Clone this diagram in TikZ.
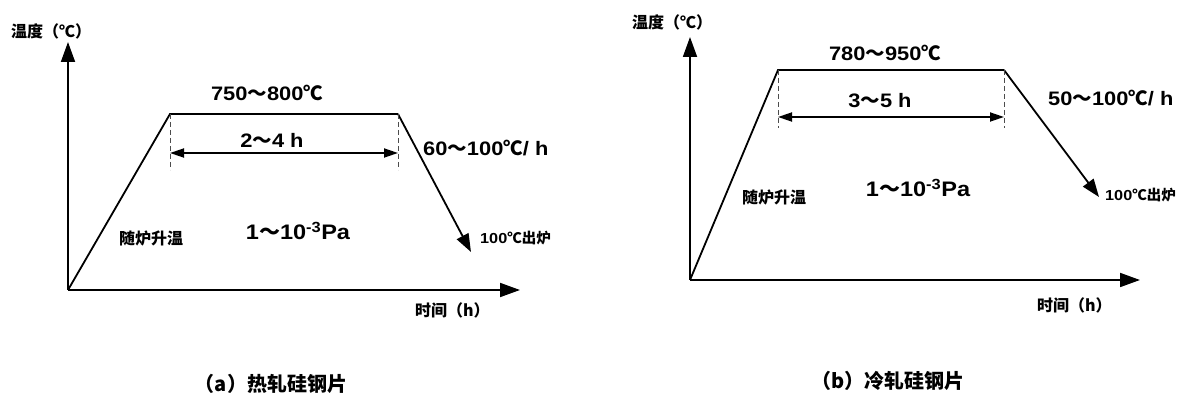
\documentclass[tikz,border=0pt]{standalone}
\usepackage{fontspec}
\setmainfont[FakeStretch=1.12]{Liberation Sans}
\newfontfamily\cjk{Noto Sans CJK SC}
\usetikzlibrary{arrows.meta}
\newcommand{\tld}{{\cjk\char"FF5E}}
\newcommand{\dgc}{{\cjk ℃}}
\begin{document}
\begin{tikzpicture}[x=1pt,y=-1pt,
  axisline/.style={line width=1.8pt,-{Triangle[length=20pt,width=14pt]}},
  curve/.style={line width=1.8pt,line join=miter},
  slopearrow/.style={line width=1.8pt,-{Triangle[length=18pt,width=13pt]}},
  spanarrow/.style={line width=1.8pt,{Triangle[length=14pt,width=9pt]}-{Triangle[length=14pt,width=9pt]}},
  guide/.style={dashed,gray!60!black,line width=0.8pt,dash pattern=on 5pt off 3pt},
  numlbl/.style={font=\bfseries\fontsize{19.5}{21}\selectfont,inner sep=0},
  biglbl/.style={font=\bfseries\fontsize{21}{23}\selectfont,inner sep=0},
  smalllbl/.style={font=\bfseries\fontsize{14.5}{16}\selectfont,inner sep=0},
  cjklbl/.style={font=\cjk\bfseries\fontsize{16}{18}\selectfont,inner sep=0},
  caplbl/.style={font=\cjk\bfseries\fontsize{20}{22}\selectfont,inner sep=0}]
\useasboundingbox (0,0) rectangle (1184,395);
% ---------- left (a) ----------
\coordinate (O1) at (68,290);
\coordinate (Y1) at (68,42);
\coordinate (X1) at (520,290);
\coordinate (A1) at (170,114);
\coordinate (B1) at (398,114);
\coordinate (E1) at (471,252);
\coordinate (A1d) at (170,170);
\coordinate (B1d) at (398,170);
\coordinate (A1s) at (170,153);
\coordinate (B1s) at (398,153);
\draw[axisline] (O1) -- (Y1);
\draw[axisline] (O1) -- (X1);
\draw[curve] (O1) -- (A1) -- (B1);
\draw[slopearrow] (B1) -- (E1);
\draw[guide] (A1) -- (A1d);
\draw[guide] (B1) -- (B1d);
\draw[spanarrow] (A1s) -- (B1s);
\node[cjklbl,anchor=west] (ylab1) at (11,31) {温度（\dgc）};
\node[cjklbl,anchor=west] (xlab1) at (415,310) {时间（h）};
\node[numlbl] (t1) at (267,93) {750\tld800\dgc};
\node[numlbl] (d1) at (272,140) {2\tld4 h};
\node[numlbl,anchor=west] (r1) at (423,148) {60\tld100\dgc/ h};
\node[smalllbl,anchor=west] (o1) at (480,238) {100\dgc{\cjk 出炉}};
\node[cjklbl] (h1) at (151,238) {随炉升温};
\node[biglbl] (p1) at (298,231) {1\tld10\textsuperscript{-3}Pa};
\node[caplbl] (c1) at (271,384) {（a）热轧硅钢片};
% ---------- right (b) ----------
\coordinate (O2) at (690,280);
\coordinate (Y2) at (690,37);
\coordinate (X2) at (1140,280);
\coordinate (A2) at (778,70);
\coordinate (B2) at (1004,70);
\coordinate (E2) at (1099,197);
\coordinate (A2d) at (778,128);
\coordinate (B2d) at (1004,128);
\coordinate (A2s) at (778,117);
\coordinate (B2s) at (1004,117);
\draw[axisline] (O2) -- (Y2);
\draw[axisline] (O2) -- (X2);
\draw[curve] (O2) -- (A2) -- (B2);
\draw[slopearrow] (B2) -- (E2);
\draw[guide] (A2) -- (A2d);
\draw[guide] (B2) -- (B2d);
\draw[spanarrow] (A2s) -- (B2s);
\node[cjklbl,anchor=west] (ylab2) at (632,22) {温度（\dgc）};
\node[cjklbl,anchor=west] (xlab2) at (1037,305) {时间（h）};
\node[numlbl] (t2) at (885,53) {780\tld950\dgc};
\node[numlbl] (d2) at (880,101) {3\tld5 h};
\node[numlbl,anchor=west] (r2) at (1048,98) {50\tld100\dgc/ h};
\node[smalllbl,anchor=west] (o2) at (1105,195) {100\dgc{\cjk 出炉}};
\node[cjklbl] (h2) at (774,197) {随炉升温};
\node[biglbl] (p2) at (918,188) {1\tld10\textsuperscript{-3}Pa};
\node[caplbl] (c2) at (888,381) {（b）冷轧硅钢片};
\end{tikzpicture}
\end{document}
